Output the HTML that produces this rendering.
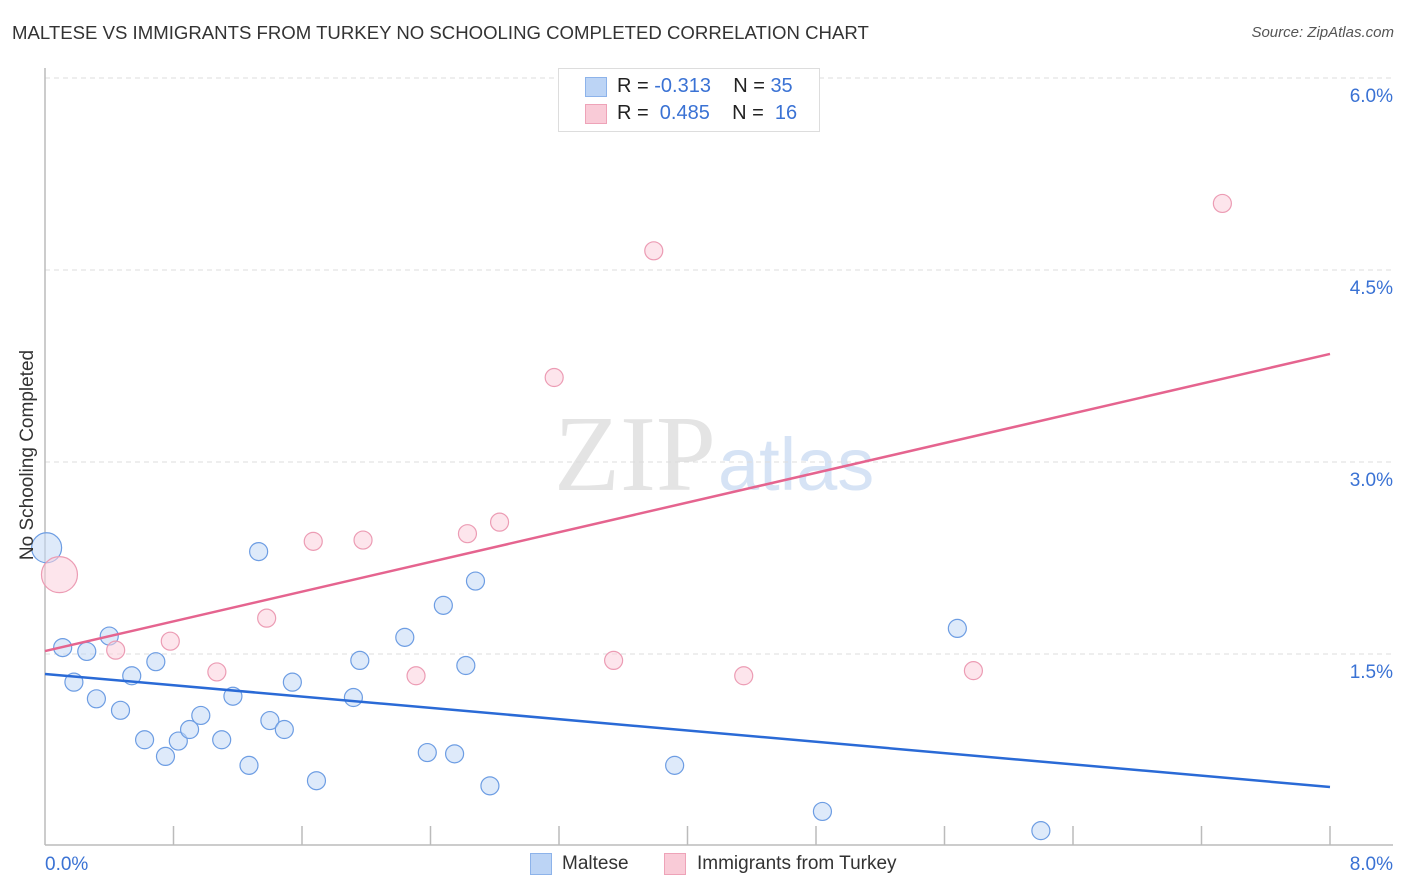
<!DOCTYPE html>
<html><head><meta charset="utf-8">
<style>
body{margin:0;background:#fff;font-family:"Liberation Sans",sans-serif;}
#wrap{position:relative;width:1406px;height:892px;overflow:hidden;}
.t{position:absolute;white-space:nowrap;}
</style></head>
<body>
<div id="wrap">
<div class="t" style="left:12px;top:22px;font-size:18.6px;color:#333;">MALTESE VS IMMIGRANTS FROM TURKEY NO SCHOOLING COMPLETED CORRELATION CHART</div>
<div class="t" style="right:12px;top:24px;font-size:15px;color:#555;font-style:italic;">Source: ZipAtlas.com</div>
<svg id="svg" width="1406" height="892" style="position:absolute;left:0;top:0;">
<text x="716" y="490" font-family="Liberation Serif,serif" font-size="108" fill="#e4e4e4" text-anchor="end">ZIP</text>
<text x="718" y="490" font-family="Liberation Sans,sans-serif" font-size="74" fill="#d6e3f5">atlas</text>
</svg>
<div class="t" style="top:455px;transform:translate(-50%,-50%) rotate(-90deg);left:28px;font-size:19px;color:#333;">No Schooling Completed</div>
<div style="position:absolute;left:558px;top:68px;width:260px;height:62px;border:1px solid #ddd;background:#fff;">
 <div style="position:absolute;left:26px;top:8px;width:20px;height:18px;background:#bcd4f5;border:1px solid #8db3ea;"></div>
 <div class="t" style="left:58px;top:6px;font-size:20px;color:#222;">R = <span style="color:#3a72d4">-0.313</span>&nbsp;&nbsp;&nbsp; N = <span style="color:#3a72d4">35</span></div>
 <div style="position:absolute;left:26px;top:35px;width:20px;height:18px;background:#f9cbd7;border:1px solid #eea3b8;"></div>
 <div class="t" style="left:58px;top:33px;font-size:20px;color:#222;">R = &nbsp;<span style="color:#3a72d4">0.485</span>&nbsp;&nbsp;&nbsp; N = &nbsp;<span style="color:#3a72d4">16</span></div>
</div>
<div style="position:absolute;left:530px;top:853px;width:20px;height:20px;background:#bcd4f5;border:1px solid #8db3ea;"></div>
<div class="t" style="left:562px;top:853px;font-size:19px;color:#333;">Maltese</div>
<div style="position:absolute;left:664px;top:853px;width:20px;height:20px;background:#f9cbd7;border:1px solid #eea3b8;"></div>
<div class="t" style="left:697px;top:853px;font-size:19px;color:#333;">Immigrants from Turkey</div>
</div>
<script>
const yTicks=[1.5,3.0,4.5,6.0];
const yTickLabels=["1.5%","3.0%","4.5%","6.0%"];
const xTickLabels=["0.0%","8.0%"];
const blueX=[0.01,0.11,0.26,0.18,0.32,0.40,0.47,0.54,0.69,0.62,0.75,0.83,0.90,0.97,1.10,1.17,1.27,1.33,1.40,1.49,1.54,1.69,1.92,1.96,2.24,2.38,2.48,2.55,2.62,2.68,2.77,3.92,4.84,5.68,6.20];
const blueY=[2.33,1.55,1.52,1.28,1.15,1.64,1.06,1.33,1.44,0.83,0.70,0.82,0.91,1.02,0.83,1.17,0.63,2.30,0.98,0.91,1.28,0.51,1.16,1.45,1.63,0.73,1.88,0.72,1.41,2.07,0.47,0.63,0.27,1.70,0.12];
const blueR=[15,9,9,9,9,9,9,9,9,9,9,9,9,9,9,9,9,9,9,9,9,9,9,9,9,9,9,9,9,9,9,9,9,9,9];
const pinkX=[0.09,0.44,0.78,1.07,1.38,1.67,1.98,2.31,2.63,2.83,3.17,3.54,3.79,4.35,5.78,7.33];
const pinkY=[2.12,1.53,1.60,1.36,1.78,2.38,2.39,1.33,2.44,2.53,3.66,1.45,4.65,1.33,1.37,5.02];
const pinkR=[18,9,9,9,9,9,9,9,9,9,9,9,9,9,9,9];
const blueLine=[1.344,0.461];
const pinkLine=[1.523,3.844];
const X0=45,X1=1330,Y0=846,PPY=128;
const sx=v=>X0+v*(X1-X0)/8, sy=v=>Y0-v*PPY;
const svg=document.getElementById('svg');
const NS='http://www.w3.org/2000/svg';
function mk(t,a){const e=document.createElementNS(NS,t);for(const k in a)e.setAttribute(k,a[k]);svg.appendChild(e);return e;}
yTicks.forEach((v,i)=>{
 const g=mk('line',{x1:X0,x2:1393,y1:sy(v),y2:sy(v),stroke:'#ddd','stroke-dasharray':'5,4'});
 
 
 const t=mk('text',{x:1393,y:sy(v)+24,'text-anchor':'end','font-size':19,fill:'#3a72d4','font-family':'Liberation Sans,sans-serif'});
 t.textContent=yTickLabels[i];
 
 
});
let a=mk('line',{x1:X0,x2:X0,y1:68,y2:845,stroke:'#bbb','stroke-width':1.5});


a=mk('line',{x1:X0,x2:1393,y1:845,y2:845,stroke:'#bbb','stroke-width':1.5});


for(let k=1;k<=10;k++){const l=mk('line',{x1:sx(k*0.8),x2:sx(k*0.8),y1:826,y2:845,stroke:'#bbb','stroke-width':1.5});
 
 }
[[0,'start',X0],[8,'end',1393]].forEach((d,i)=>{const t=mk('text',{x:d[2],y:870,'text-anchor':d[1],'font-size':19,fill:'#3a72d4','font-family':'Liberation Sans,sans-serif'});
 t.textContent=xTickLabels[i];
 
 });
function pts(X,Y,R,f,s,n){X.forEach((x,i)=>{const c=mk('circle',{cx:sx(x),cy:sy(Y[i]),r:R[i],fill:f,'fill-opacity':0.55,stroke:s,'stroke-width':1.2});
 
 });}
pts(blueX,blueY,blueR,'#c3d8f6','#6d9de3','maltese-point');
pts(pinkX,pinkY,pinkR,'#fbd0dc','#ec9cb4','turkey-point');
let ln=mk('line',{x1:sx(0),y1:sy(blueLine[0]),x2:sx(8),y2:sy(blueLine[1]),stroke:'#2a6ad6','stroke-width':2.5});


ln=mk('line',{x1:sx(0),y1:sy(pinkLine[0]),x2:sx(8),y2:sy(pinkLine[1]),stroke:'#e5648f','stroke-width':2.5});


</script>
</body></html>
